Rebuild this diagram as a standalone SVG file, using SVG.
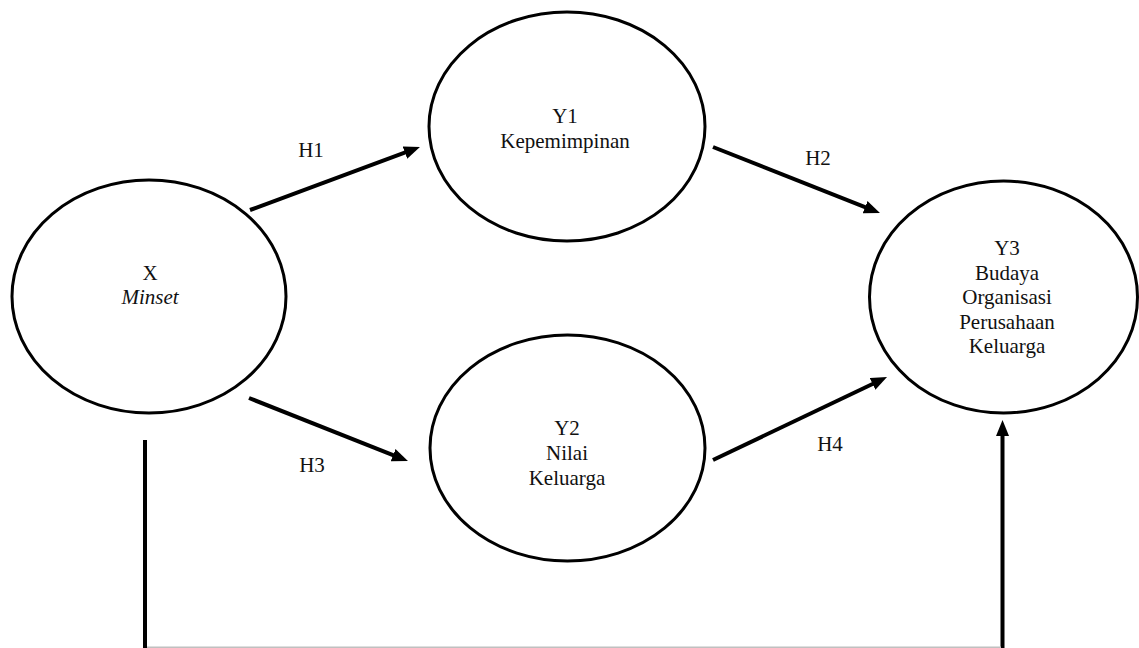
<svg xmlns="http://www.w3.org/2000/svg" width="1139" height="648" viewBox="0 0 1139 648">
<style>
.node{fill:#fff;stroke:#000;stroke-width:3}
.t{font-family:"Liberation Serif","Times New Roman",serif;font-size:21px;fill:#111;text-anchor:middle}
.i{font-style:italic}
.c{fill:none;stroke:#000;stroke-width:4}
</style>
<defs>
<marker id="ah" markerUnits="userSpaceOnUse" markerWidth="17" markerHeight="14" refX="4" refY="6.5" orient="auto">
<path d="M0,0 L16,6.5 L0,13 z" fill="#000"/>
</marker>
</defs>
<rect width="1139" height="648" fill="#fff"/>
<g id="node-x">
<ellipse class="node" cx="149" cy="296.5" rx="137" ry="116.5"/>
<text class="t" x="150" y="280">X</text>
<text class="t i" x="150" y="304">Minset</text>
</g>
<g id="node-y1">
<ellipse class="node" cx="567" cy="126.5" rx="138" ry="114.5"/>
<text class="t" x="565" y="123">Y1</text>
<text class="t" x="565" y="148">Kepemimpinan</text>
</g>
<g id="node-y2">
<ellipse class="node" cx="567.5" cy="448" rx="137.5" ry="113"/>
<text class="t" x="567" y="435">Y2</text>
<text class="t" x="567" y="460">Nilai</text>
<text class="t" x="567" y="485">Keluarga</text>
</g>
<g id="node-y3">
<ellipse class="node" cx="1003.5" cy="297" rx="134" ry="116"/>
<text class="t" x="1007" y="255">Y3</text>
<text class="t" x="1007" y="280">Budaya</text>
<text class="t" x="1007" y="304">Organisasi</text>
<text class="t" x="1007" y="329">Perusahaan</text>
<text class="t" x="1007" y="353">Keluarga</text>
</g>
<g id="connectors">
<line class="c" x1="250" y1="210" x2="408.7" y2="151.2" marker-end="url(#ah)"/>
<line class="c" x1="249" y1="398" x2="396.8" y2="456.6" marker-end="url(#ah)"/>
<line class="c" x1="713" y1="147" x2="868.8" y2="208.6" marker-end="url(#ah)"/>
<line class="c" x1="713" y1="460" x2="876.2" y2="382.2" marker-end="url(#ah)"/>
<line class="c" x1="145" y1="440" x2="145" y2="648"/>
<line class="c" x1="1002.5" y1="648" x2="1002.5" y2="432" marker-end="url(#ah)"/>
<line x1="147" y1="647.2" x2="1001" y2="647.2" stroke="#c0c0c0" stroke-width="1.6"/>
<text class="t" x="311" y="157">H1</text>
<text class="t" x="818" y="165">H2</text>
<text class="t" x="312" y="472">H3</text>
<text class="t" x="830" y="451">H4</text>
</g>
</svg>
